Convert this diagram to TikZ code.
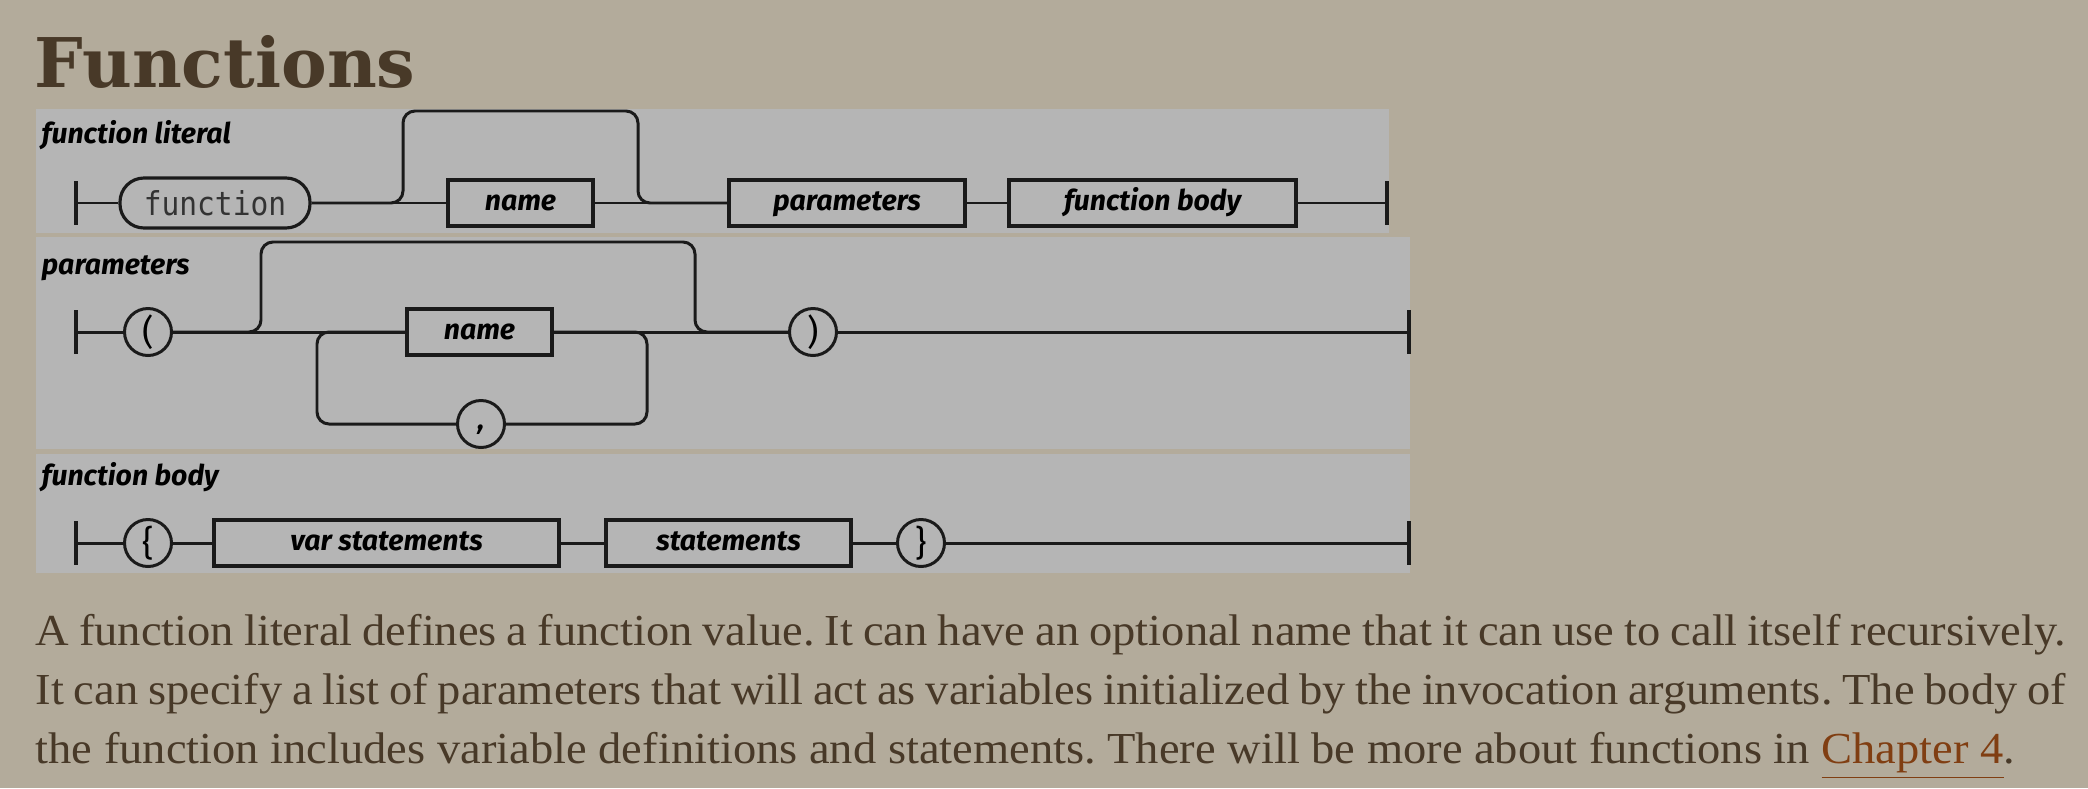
\documentclass[tikz,border=0pt]{standalone}
\usepackage{fontspec}
\setmainfont{Liberation Serif}[FakeStretch=1.05]
\newfontfamily\headfont{DejaVu Serif}
\newfontfamily\railfont{Fira Sans}
\newfontfamily\railmono{DejaVu Sans Mono}[FakeStretch=0.9]
\usepackage{xcolor}
\definecolor{pagetan}{RGB}{179,171,155}
\definecolor{panelgray}{RGB}{181,181,181}
\definecolor{railink}{RGB}{26,26,26}
\definecolor{inkbrown}{RGB}{72,57,40}
\definecolor{linkbrown}{RGB}{128,62,18}
\usetikzlibrary{positioning}
\frenchspacing
\tikzset{
  rail/.style={draw=railink, line width=0.85pt},
  endbar/.style={draw=railink, line width=0.9pt},
  ntbox/.style={draw=railink, line width=1.1pt, inner sep=0pt,
                font=\railfont\bfseries\itshape\fontsize{8.1}{9.7}\selectfont,
                text height=0.15cm, text depth=0cm,
                minimum width=#1, minimum height=0.46cm},
  kwpill/.style={draw=railink, line width=0.9pt, rounded corners=0.24cm, inner sep=0pt,
                 font=\railmono\fontsize{9.35}{11}\selectfont, text=black!80,
                 minimum width=1.90cm, minimum height=0.50cm},
  tokcirc/.style={draw=railink, circle, line width=0.85pt, inner sep=0pt,
                  font=\railfont\fontsize{10}{12}\selectfont, minimum size=0.47cm},
  tokcomma/.style={tokcirc, font=\railfont\bfseries\itshape\fontsize{8.1}{9.7}\selectfont},
  rlabel/.style={anchor=base west, inner sep=0pt,
                 font=\railfont\bfseries\itshape\fontsize{8.1}{9.7}\selectfont},
  headtitle/.style={anchor=base west, inner sep=0pt, text=inkbrown,
                    font=\headfont\bfseries\fontsize{19.5}{23}\selectfont},
  bodyline/.style={anchor=base west, inner sep=0pt, text=inkbrown,
                   font=\fontsize{12.6}{15}\selectfont},
}
\begin{document}
\begin{tikzpicture}

% Page and panels
\path[use as bounding box, fill=pagetan] (0,0) rectangle (20.88,-7.88);
\fill[panelgray] (0.36,-1.09) rectangle (13.89,-2.33);
\fill[panelgray] (0.36,-2.37) rectangle (14.10,-4.49);
\fill[panelgray] (0.36,-4.54) rectangle (14.10,-5.73);

\node[headtitle] (title) at (0.34,-0.87) {Functions};

% Diagram 1: function literal
\node[rlabel] (lab1) at (0.41,-1.43) {function literal};
\coordinate (s1) at (0.76,-2.03);
\node[kwpill] (kwfun) at (2.15,-2.03) {function};
\node[ntbox=1.45cm] (name1) at (5.205,-2.03) {name};
\node[ntbox=2.36cm] (params) at (8.47,-2.03) {parameters};
\node[ntbox=2.87cm] (fbody) at (11.525,-2.03) {function body};
\coordinate (e1) at (13.87,-2.03);
\coordinate (byTL1) at (4.03,-1.11);
\coordinate (byTR1) at (6.38,-1.11);
\draw[endbar] (s1) ++(0,0.22) -- ++(0,-0.44);
\draw[endbar] (e1) ++(0,0.22) -- ++(0,-0.44);
\draw[rail] (s1) -- (kwfun.west);
\draw[rail] (kwfun.east) -- (name1.west);
\draw[rail] (name1.east) -- (params.west);
\draw[rail] (params.east) -- (fbody.west);
\draw[rail] (fbody.east) -- (e1);
\draw[rail, rounded corners=0.12cm] (kwfun.east) -| (byTL1) -- (byTR1) |- (params.west);

% Diagram 2: parameters
\node[rlabel] (lab2) at (0.41,-2.74) {parameters};
\coordinate (s2) at (0.76,-3.32);
\node[tokcirc] (lpar) at (1.48,-3.32) {(};
\node[ntbox=1.45cm] (name2) at (4.795,-3.32) {name};
\node[tokcirc] (rpar) at (8.13,-3.32) {)};
\node[tokcomma] (comma) at (4.81,-4.24) {\vphantom{x},};
\coordinate (e2) at (14.09,-3.32);
\coordinate (byTL2) at (2.61,-2.42);
\coordinate (byTR2) at (6.95,-2.42);
\coordinate (lpTL) at (3.17,-3.32);
\coordinate (lpTR) at (6.47,-3.32);
\coordinate (lpBL) at (3.17,-4.24);
\coordinate (lpBR) at (6.47,-4.24);
\draw[endbar] (s2) ++(0,0.22) -- ++(0,-0.44);
\draw[endbar] (e2) ++(0,0.22) -- ++(0,-0.44);
\draw[rail] (s2) -- (lpar.west);
\draw[rail] (lpar.east) -- (name2.west);
\draw[rail] (name2.east) -- (rpar.west);
\draw[rail] (rpar.east) -- (e2);
\draw[rail, rounded corners=0.12cm] (lpar.east) -| (byTL2) -- (byTR2) |- (rpar.west);
\draw[rail, rounded corners=0.12cm] (name2.east) -- (lpTR) -- (lpBR) -- (comma.east);
\draw[rail, rounded corners=0.12cm] (comma.west) -- (lpBL) -- (lpTL) -- (name2.west);

% Diagram 3: function body
\node[rlabel] (lab3) at (0.41,-4.85) {function body};
\coordinate (s3) at (0.76,-5.43);
\node[tokcirc] (lbrace) at (1.48,-5.43) {\{};
\node[ntbox=3.45cm] (varst) at (3.865,-5.43) {var statements};
\node[ntbox=2.45cm] (stmts) at (7.285,-5.43) {statements};
\node[tokcirc] (rbrace) at (9.21,-5.43) {\}};
\coordinate (e3) at (14.09,-5.43);
\draw[endbar] (s3) ++(0,0.22) -- ++(0,-0.44);
\draw[endbar] (e3) ++(0,0.22) -- ++(0,-0.44);
\draw[rail] (s3) -- (lbrace.west);
\draw[rail] (lbrace.east) -- (varst.west);
\draw[rail] (varst.east) -- (stmts.west);
\draw[rail] (stmts.east) -- (rbrace.west);
\draw[rail] (rbrace.east) -- (e3);

% Paragraph
\node[bodyline] (txt1) at (0.35,-6.45)
  {\makebox[20.30cm][s]{A function literal defines a function value. It can have an optional name that it can use to call itself recursively.}};
\node[bodyline] (txt2) at (0.35,-7.04)
  {\makebox[20.30cm][s]{It can specify a list of parameters that will act as variables initialized by the invocation arguments. The body of}};
\node[bodyline] (txt3) at (0.35,-7.63)
  {the function includes variable definitions and statements. There will be more about functions in \textcolor{linkbrown}{\underline{Chapter 4}}.};

\end{tikzpicture}
\end{document}
